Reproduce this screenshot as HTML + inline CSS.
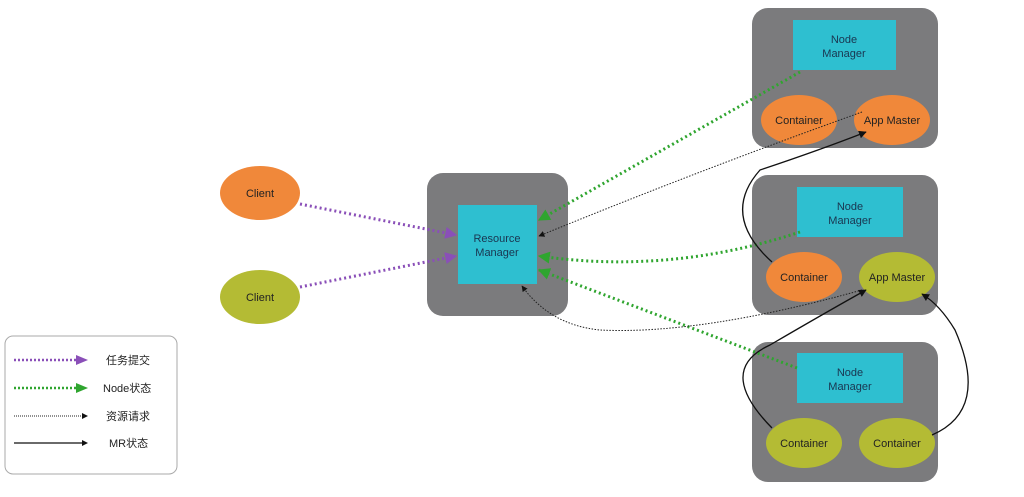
<!DOCTYPE html>
<html><head><meta charset="utf-8"><style>
body{margin:0;background:#fff;width:1024px;height:492px;overflow:hidden}
svg text{font-family:"Liberation Sans","Noto Sans CJK SC",sans-serif}
</style></head><body>
<svg width="1024" height="492" viewBox="0 0 1024 492" xmlns="http://www.w3.org/2000/svg">
<defs>
<marker id="pu" viewBox="0 0 10 10" refX="9" refY="5" markerWidth="4" markerHeight="4" orient="auto"><path d="M0,0L10,5L0,10z" fill="#8a4fb8"/></marker>
<marker id="gr" viewBox="0 0 10 10" refX="9" refY="5" markerWidth="4" markerHeight="4" orient="auto"><path d="M0,0L10,5L0,10z" fill="#2fa52f"/></marker>
<marker id="bk" viewBox="0 0 10 10" refX="9" refY="5" markerWidth="6" markerHeight="6" orient="auto"><path d="M0,0L10,5L0,10z" fill="#111"/></marker>
</defs>
<!-- boxes -->
<rect x="427" y="173" width="141" height="143" rx="16" fill="#7b7b7d"/>
<rect x="458" y="205" width="79" height="79" fill="#2ebfd0"/>
<text x="497" y="242" font-size="11" text-anchor="middle" fill="#1a3550">Resource</text>
<text x="497" y="256" font-size="11" text-anchor="middle" fill="#1a3550">Manager</text>

<rect x="752" y="8" width="186" height="140" rx="16" fill="#7b7b7d"/>
<rect x="793" y="20" width="103" height="50" fill="#2ebfd0"/>
<text x="844" y="43" font-size="11" text-anchor="middle" fill="#1a3550">Node</text>
<text x="844" y="57" font-size="11" text-anchor="middle" fill="#1a3550">Manager</text>
<ellipse cx="799" cy="120" rx="38" ry="25" fill="#f0883a"/>
<text x="799" y="124" font-size="11" text-anchor="middle" fill="#222">Container</text>
<ellipse cx="892" cy="120" rx="38" ry="25" fill="#f0883a"/>
<text x="892" y="124" font-size="11" text-anchor="middle" fill="#222">App Master</text>

<rect x="752" y="175" width="186" height="140" rx="16" fill="#7b7b7d"/>
<rect x="797" y="187" width="106" height="50" fill="#2ebfd0"/>
<text x="850" y="210" font-size="11" text-anchor="middle" fill="#1a3550">Node</text>
<text x="850" y="224" font-size="11" text-anchor="middle" fill="#1a3550">Manager</text>
<ellipse cx="804" cy="277" rx="38" ry="25" fill="#f0883a"/>
<text x="804" y="281" font-size="11" text-anchor="middle" fill="#222">Container</text>
<ellipse cx="897" cy="277" rx="38" ry="25" fill="#b4bb34"/>
<text x="897" y="281" font-size="11" text-anchor="middle" fill="#222">App Master</text>

<rect x="752" y="342" width="186" height="140" rx="16" fill="#7b7b7d"/>
<rect x="797" y="353" width="106" height="50" fill="#2ebfd0"/>
<text x="850" y="376" font-size="11" text-anchor="middle" fill="#1a3550">Node</text>
<text x="850" y="390" font-size="11" text-anchor="middle" fill="#1a3550">Manager</text>
<ellipse cx="804" cy="443" rx="38" ry="25" fill="#b4bb34"/>
<text x="804" y="447" font-size="11" text-anchor="middle" fill="#222">Container</text>
<ellipse cx="897" cy="443" rx="38" ry="25" fill="#b4bb34"/>
<text x="897" y="447" font-size="11" text-anchor="middle" fill="#222">Container</text>

<ellipse cx="260" cy="193" rx="40" ry="27" fill="#f0883a"/>
<text x="260" y="197" font-size="11" text-anchor="middle" fill="#222">Client</text>
<ellipse cx="260" cy="297" rx="40" ry="27" fill="#b4bb34"/>
<text x="260" y="301" font-size="11" text-anchor="middle" fill="#222">Client</text>

<!-- purple -->
<g stroke="#8a4fb8" stroke-width="3" stroke-dasharray="2 3" fill="none">
<path d="M300,204 L456,235" marker-end="url(#pu)"/>
<path d="M300,287 L456,256" marker-end="url(#pu)"/>
</g>
<!-- green -->
<g stroke="#2fa52f" stroke-width="3" stroke-dasharray="2 3" fill="none">
<path d="M800,72 L539,220" marker-end="url(#gr)"/>
<path d="M800,232 Q670,275 539,256" marker-end="url(#gr)"/>
<path d="M797,368 L539,270" marker-end="url(#gr)"/>
</g>
<!-- black dotted -->
<g stroke="#222" stroke-width="1" stroke-dasharray="1.5 1.5" fill="none">
<path d="M862,112 Q700,170 539,236" marker-end="url(#bk)"/>
<path d="M862,290 Q700,335 600,330 Q550,325 522,286" marker-end="url(#bk)"/>
</g>
<!-- black solid -->
<g stroke="#111" stroke-width="1.3" fill="none">
<path d="M772,262 Q720,215 760,170 Q820,150 866,132" marker-end="url(#bk)"/>
<path d="M772,428 Q715,370 770,345 Q830,310 866,290" marker-end="url(#bk)"/>
<path d="M932,435 Q990,410 955,330 Q940,305 922,294" marker-end="url(#bk)"/>
</g>

<!-- legend -->
<rect x="5" y="336" width="172" height="138" rx="8" fill="#fff" stroke="#aaa"/>
<g stroke-width="2.5" stroke-dasharray="2 2" fill="none">
<path d="M14,360 L80,360" stroke="#8a4fb8"/>
<path d="M14,388 L80,388" stroke="#2fa52f"/>
</g>
<path d="M76,355 L88,360 L76,365z" fill="#8a4fb8"/>
<path d="M76,383 L88,388 L76,393z" fill="#2fa52f"/>
<path d="M14,416 L82,416" stroke="#222" stroke-width="1" stroke-dasharray="1 1"/>
<path d="M82,413 L88,416 L82,419z" fill="#111"/>
<path d="M14,443 L82,443" stroke="#111" stroke-width="1.3"/>
<path d="M82,440 L88,443 L82,446z" fill="#111"/>
<text x="106" y="364" font-size="11" fill="#222">任务提交</text>
<text x="103" y="392" font-size="11" fill="#222">Node状态</text>
<text x="106" y="420" font-size="11" fill="#222">资源请求</text>
<text x="109" y="447" font-size="11" fill="#222">MR状态</text>
</svg>
</body></html>
